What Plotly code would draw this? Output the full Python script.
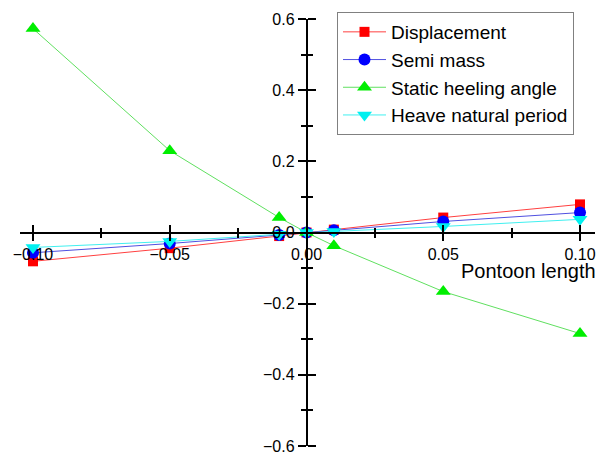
import plotly.graph_objects as go

x_vals = [-0.10, -0.05, -0.01, 0.00, 0.01, 0.05, 0.10]
displacement = [-0.081, -0.044, -0.010, 0.0, 0.008, 0.042, 0.079]
semi_mass = [-0.057, -0.031, -0.007, 0.0, 0.006, 0.031, 0.056]
static_heeling = [0.573, 0.230, 0.042, 0.0, -0.037, -0.166, -0.284]
heave_period = [-0.042, -0.025, -0.005, 0.0, 0.003, 0.017, 0.037]

x_ticks = [-0.10, -0.05, 0.00, 0.05, 0.10]
y_ticks = [-0.6, -0.4, -0.2, 0.0, 0.2, 0.4, 0.6]
x_title = "Pontoon length"

FONT = "Liberation Sans, Arial, sans-serif"
xr = [-0.10475, 0.10548]
yr = [-0.6, 0.6]
ypos = (0 - xr[0]) / (xr[1] - xr[0])

series = [
    ("Displacement", displacement, "#ff0000", "#ff4040", "square", 10),
    ("Semi mass", semi_mass, "#0000ff", "#5050e0", "circle", 12),
    ("Static heeling angle", static_heeling, "#00ee00", "#60e060", "triangle-up", 13),
    ("Heave natural period", heave_period, "#00f0f0", "#40f0f0", "triangle-down", 13),
]

fig = go.Figure()
for name, vals, mcol, lcol, sym, sz in series:
    fig.add_trace(go.Scatter(
        x=x_vals, y=vals, name=name, mode="lines+markers",
        line=dict(color=lcol, width=1),
        marker=dict(color=mcol, symbol=sym, size=sz, line=dict(width=0)),
    ))
fig.add_trace(go.Scatter(x=[None], y=[None], xaxis="x2", yaxis="y2",
                         showlegend=False, hoverinfo="skip"))

common = dict(showgrid=False, zeroline=False, linecolor="black", tickcolor="black",
              tickwidth=1.5, automargin=False)
minor_x = dict(ticks="outside", ticklen=5, dtick=0.025, tick0=0,
               tickcolor="black", tickwidth=1.5)
minor_y = dict(ticks="outside", ticklen=5, dtick=0.1, tick0=0,
               tickcolor="black", tickwidth=1.5)
fig.update_layout(
    width=601, height=455,
    margin=dict(l=20, r=6, t=19, b=9, autoexpand=False),
    paper_bgcolor="white", plot_bgcolor="white",
    font=dict(family=FONT, size=16, color="black"),
    xaxis=dict(range=xr, anchor="free", position=0.5, showline=True, linewidth=1.5,
               ticks="outside", ticklen=8, tickvals=x_ticks, tickformat=".2f",
               ticklabeloverflow="allow",
               minor=minor_x, tickfont=dict(size=16), **common),
    yaxis=dict(range=yr, anchor="free", position=ypos, showline=True, linewidth=1.5,
               ticks="outside", ticklen=8, tickvals=y_ticks, tickformat=".1f",
               ticklabeloverflow="allow",
               minor=minor_y, tickfont=dict(size=16), **common),
    xaxis2=dict(range=xr, overlaying="x", side="top", anchor="free", position=0.5,
                showline=False, ticks="outside", ticklen=8, tickvals=x_ticks,
                showticklabels=False, minor=minor_x, **common),
    yaxis2=dict(range=yr, overlaying="y", side="right", anchor="free", position=ypos,
                showline=False, ticks="outside", ticklen=8, tickvals=y_ticks,
                showticklabels=False, minor=minor_y, **common),
    legend=dict(x=(337 - 20) / 575, y=1 + 7 / 427, xanchor="left", yanchor="top",
                bgcolor="white", bordercolor="#808080", borderwidth=1,
                font=dict(size=19, family=FONT), itemwidth=43, tracegroupgap=0),
    annotations=[dict(text=x_title, x=1.006, y=(446 - 271) / 427, xref="paper",
                      yref="paper", xanchor="right", yanchor="middle", showarrow=False,
                      font=dict(size=20, family=FONT))],
    showlegend=True,
)
fig.write_html(
    "out.html",
    config={"displayModeBar": False},
    post_script="document.body.style.margin='0px';"
                "document.documentElement.style.overflow='hidden';",
)
